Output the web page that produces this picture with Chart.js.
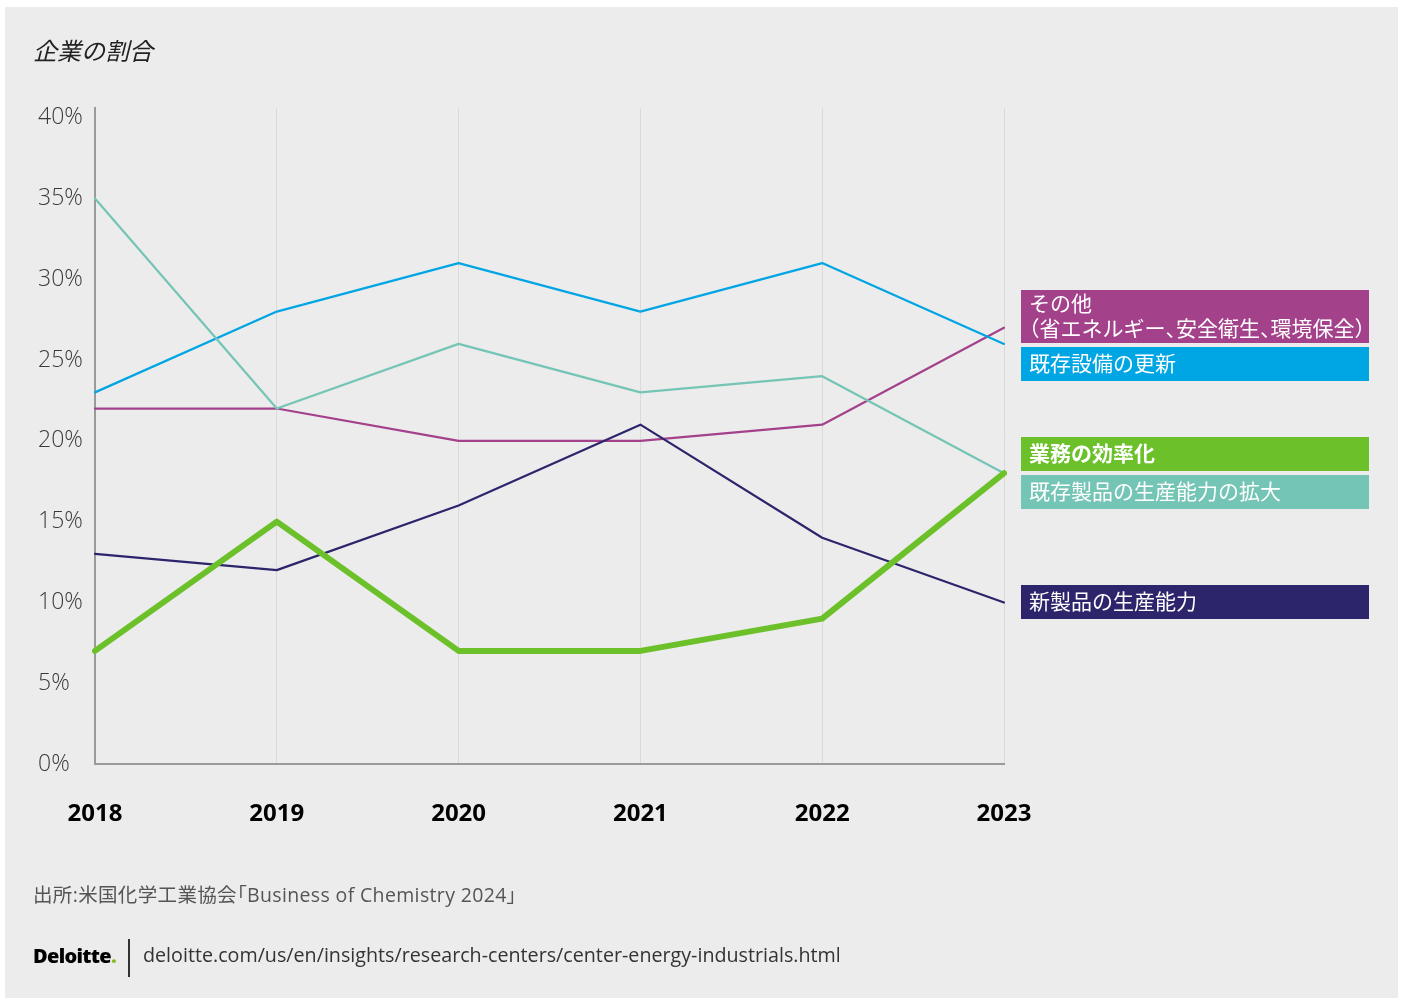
<!DOCTYPE html>
<html lang="ja">
<head>
<meta charset="utf-8">
<title>企業の割合</title>
<script src="https://cdn.jsdelivr.net/npm/chart.js@4/dist/chart.umd.min.js"></script>
<style>
  html, body { margin: 0; padding: 0; background: #ffffff; }
  body { width: 1402px; height: 998px; position: relative; overflow: hidden;
         font-family: 'Open Sans', 'Noto Sans CJK JP', sans-serif; }
  #panel { position: absolute; left: 5px; top: 7px; width: 1393px; height: 991px; background: #ececec; }
  #chart { position: absolute; left: 0; top: 0; }
  .title { position: absolute; left: 33px; top: 34px; font-size: 24px; font-style: italic;
           color: #222; font-family: 'Noto Sans CJK JP', sans-serif; line-height: 32px; }
  .source { position: absolute; left: 33px; top: 881px; font-size: 19.5px; color: #555; line-height: 28px;
            letter-spacing: 0.35px;
            font-family: 'Open Sans', 'Noto Sans CJK JP', sans-serif; font-feature-settings: "palt"; }
  .logo { position: absolute; left: 33px; top: 941px; font-size: 20px; font-weight: 800; color: #000;
          letter-spacing: -0.7px; line-height: 30px; font-family: 'Open Sans', sans-serif; }
  .logo span { color: #86bc25; }
  .rule { position: absolute; left: 128px; top: 939px; width: 1.5px; height: 38px; background: #333; }
  .url { position: absolute; left: 143px; top: 940px; font-size: 19.7px; color: #333; line-height: 30px;
         font-family: 'Open Sans', sans-serif; }
</style>
</head>
<body>
<div id="panel"></div>
<canvas id="chart" width="1402" height="998"></canvas>
<div class="title">企業の割合</div>
<div class="source">出所:米国化学工業協会「Business of Chemistry 2024」</div>
<div class="logo">Deloitte<span>.</span></div>
<div class="rule"></div>
<div class="url">deloitte.com/us/en/insights/research-centers/center-energy-industrials.html</div>
<script>
// Survey years
const years = ['2018', '2019', '2020', '2021', '2022', '2023'];

// Share of companies (%) by investment purpose
const efficiency      = [7, 15, 7, 7, 9, 18];     // 業務の効率化
const newCapacity     = [13, 12, 16, 21, 14, 10]; // 新製品の生産能力
const expandExisting  = [35, 22, 26, 23, 24, 18]; // 既存製品の生産能力の拡大
const replaceEquip    = [23, 28, 31, 28, 31, 26]; // 既存設備の更新
const otherPurposes   = [22, 22, 20, 20, 21, 27]; // その他

// Y-axis tick values
const yTicks = [0, 5, 10, 15, 20, 25, 30, 35, 40];

const FONT = "'Open Sans', 'Noto Sans CJK JP', sans-serif";

const series = [
  { label: ['業務の効率化'], data: efficiency, color: '#6cc12a', width: 6, bold: true },
  { label: ['新製品の生産能力'], data: newCapacity, color: '#2c256b', width: 2.2 },
  { label: ['既存製品の生産能力の拡大'], data: expandExisting, color: '#74c5b5', width: 2.2 },
  { label: ['既存設備の更新'], data: replaceEquip, color: '#00a5e3', width: 2.2 },
  { label: ['その他', '（省エネルギー、安全衛生、環境保全）'], data: otherPurposes, color: '#a4418b', width: 2.2 }
];

// Draw text with proportional (half-width) brackets and commas
function fillProportional(ctx, text, x, y, em) {
  let cx = x;
  for (const ch of text) {
    if (ch === '（' || ch === '「') {
      ctx.fillText(ch, cx - em / 2, y);
      cx += em / 2;
    } else if (ch === '）' || ch === '、' || ch === '」') {
      ctx.fillText(ch, cx, y);
      cx += em / 2;
    } else {
      ctx.fillText(ch, cx, y);
      cx += ctx.measureText(ch).width;
    }
  }
}

// End-of-line labels: colored boxes stacked beside the last point of each line
const endLabels = {
  id: 'endLabels',
  afterDraw(chart) {
    const { ctx, scales: { y }, chartArea } = chart;
    const boxLeft = chartArea.right + 17;
    const boxWidth = 348;
    const lineH = 25;
    const gap = 4;
    const em = 21;
    const items = chart.data.datasets.map((ds, i) => {
      const lines = ds.endLabel;
      const h = lines.length === 1 ? 34 : 53;
      return { i, ds, lines, h, anchor: y.getPixelForValue(ds.data[ds.data.length - 1]) };
    }).sort((a, b) => a.anchor - b.anchor || a.i - b.i);

    // group labels that would overlap and centre each group on its anchors
    const groups = [];
    items.forEach(it => {
      const g = groups[groups.length - 1];
      if (g && it.anchor - g.items[g.items.length - 1].anchor < 40) g.items.push(it);
      else groups.push({ items: [it] });
    });
    groups.forEach(g => {
      const total = g.items.reduce((s, it) => s + it.h, 0) + gap * (g.items.length - 1);
      const mean = g.items.reduce((s, it) => s + it.anchor, 0) / g.items.length;
      let top = mean - total / 2;
      g.items.forEach(it => {
        ctx.save();
        ctx.fillStyle = it.ds.borderColor;
        ctx.fillRect(boxLeft, Math.round(top), boxWidth, it.h);
        ctx.fillStyle = '#ffffff';
        ctx.font = (it.ds.endBold ? '700 ' : '400 ') + em + 'px ' + FONT;
        ctx.textBaseline = 'middle';
        ctx.textAlign = 'left';
        const startY = top + it.h / 2 - (it.lines.length - 1) * lineH / 2 + 1;
        it.lines.forEach((t, k) => fillProportional(ctx, t, boxLeft + 8, startY + k * lineH, em));
        ctx.restore();
        top += it.h + gap;
      });
    });
  }
};

new Chart(document.getElementById('chart'), {
  type: 'line',
  data: {
    labels: years,
    datasets: series.map(s => ({
      label: s.label.join(''),
      endLabel: s.label,
      endBold: !!s.bold,
      data: s.data,
      borderColor: s.color,
      backgroundColor: s.color,
      borderWidth: s.width,
      pointRadius: 0,
      tension: 0,
      borderCapStyle: 'round',
      borderJoinStyle: 'round',
      fill: false
    }))
  },
  options: {
    responsive: false,
    devicePixelRatio: 1,
    animation: false,
    layout: { padding: { left: 38, right: 398, top: 108, bottom: 0 } },
    plugins: { legend: { display: false }, tooltip: { enabled: false }, title: { display: false } },
    scales: {
      x: {
        offset: false,
        grid: { display: true, color: '#dadada', lineWidth: 1, drawTicks: false },
        border: { display: true, color: '#9a9a9a', width: 2 },
        ticks: { font: { family: FONT, size: 24, weight: '700' }, color: '#000', padding: 36, maxRotation: 0 },
        afterFit(scale) { scale.height = 998 - 764; }
      },
      y: {
        min: 0,
        max: 40.6,
        grid: { display: false, drawTicks: false },
        border: { display: true, color: '#9a9a9a', width: 2 },
        afterBuildTicks(scale) { scale.ticks = yTicks.map(v => ({ value: v })); },
        ticks: {
          font: { family: FONT, size: 23, weight: '300' },
          color: '#3a3a3a',
          crossAlign: 'far',
          callback: v => v + '%'
        },
        afterFit(scale) { scale.width = 57; }
      }
    }
  },
  plugins: [endLabels]
});
</script>
</body>
</html>
